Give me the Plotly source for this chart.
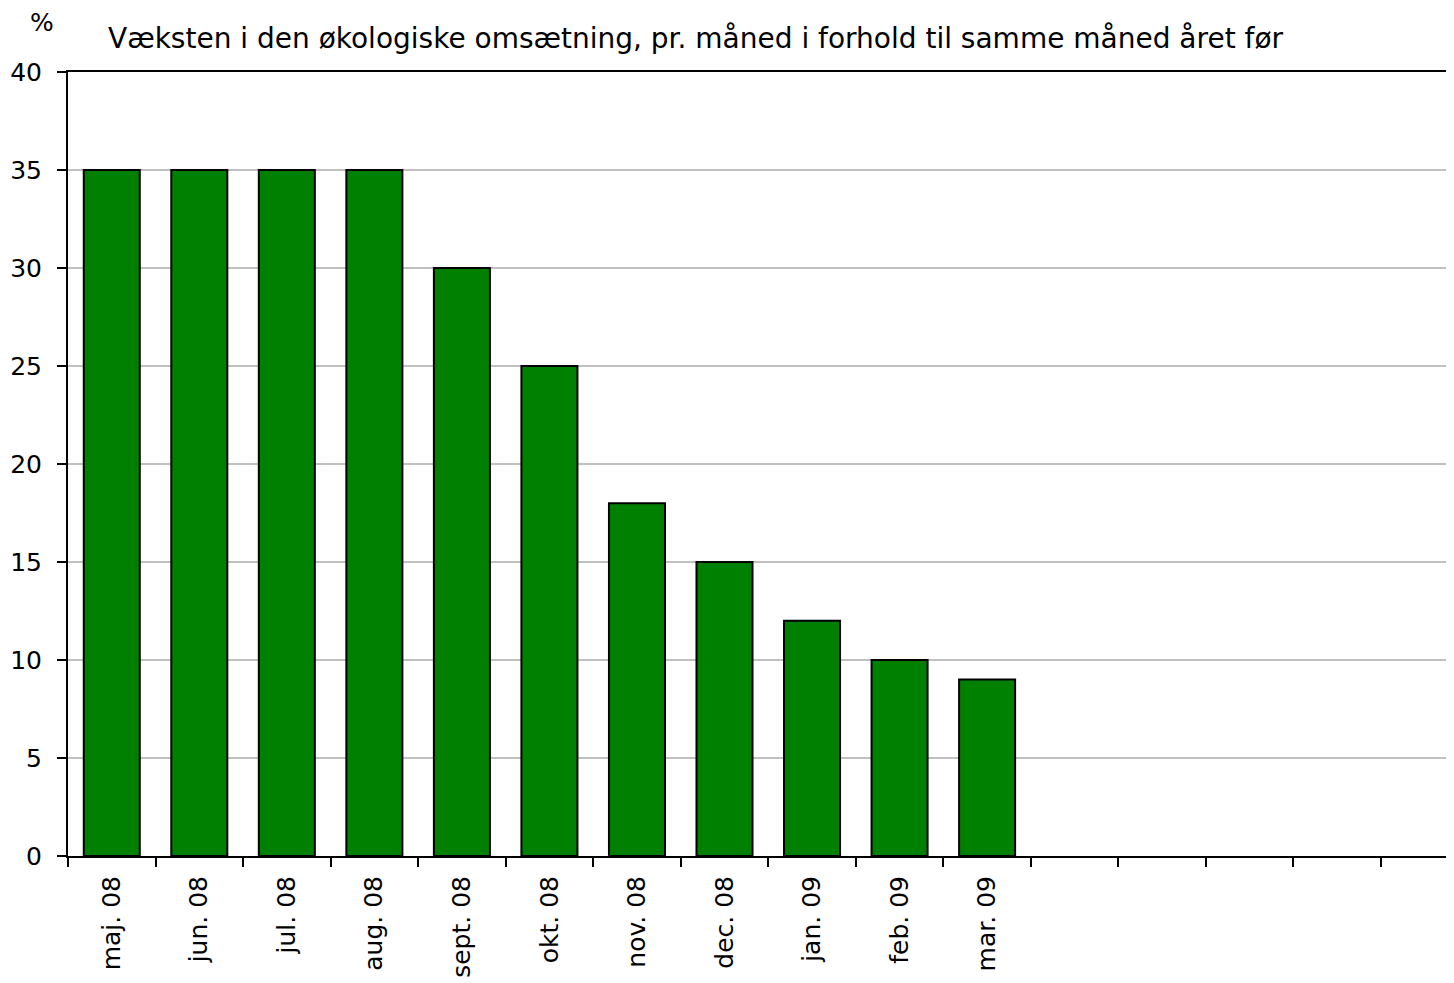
import plotly.graph_objects as go

months = ["maj. 08", "jun. 08", "jul. 08", "aug. 08", "sept. 08", "okt. 08",
          "nov. 08", "dec. 08", "jan. 09", "feb. 09", "mar. 09"]
growth = [35, 35, 35, 35, 30, 25, 18, 15, 12, 10, 9]
# empty category slots after the last month (blank labels)
empty_slots = [" " * (i + 1) for i in range(5)]

categories = months + empty_slots
values = growth + [None] * len(empty_slots)

title_text = "Væksten i den økologiske omsætning, pr. måned i forhold til samme måned året før"

OFF = 8  # default page body margin
W, H = 1454 - OFF, 983 - OFF
ml, mt = 68 - OFF, 72 - OFF
mb = H - (856 - OFF)
slot_px = (1381 - 68) / 15.0
x_upper = -0.5 + (W - ml) / slot_px
plot_h = H - mt - mb

fig = go.Figure(
    go.Bar(
        x=categories,
        y=values,
        marker=dict(color="#008000", line=dict(color="#000000", width=2)),
        width=0.64,
        showlegend=False,
        hoverinfo="x+y",
    )
)

fig.update_layout(
    width=W,
    height=H,
    margin=dict(l=ml, r=0, t=mt, b=mb, pad=0, autoexpand=False),
    plot_bgcolor="white",
    paper_bgcolor="white",
    font=dict(family="DejaVu Sans, Liberation Sans, Arial", color="black", size=25),
    title=dict(
        text=title_text,
        x=(108 - OFF) / W,
        xanchor="left",
        y=1 - (38 - OFF) / H,
        yanchor="middle",
        xref="container",
        yref="container",
        font=dict(size=28, family="DejaVu Sans, Arial", color="black"),
    ),
    bargap=0.36,
)

fig.update_xaxes(
    type="category",
    categoryorder="array",
    categoryarray=categories,
    range=[-0.5, x_upper],
    tickson="boundaries",
    ticks="outside",
    ticklen=9,
    tickwidth=2,
    tickcolor="black",
    tickangle=-90,
    ticklabelstandoff=8,
    tickfont=dict(size=25, family="DejaVu Sans, Arial"),
    showline=True,
    linecolor="black",
    linewidth=2,
    mirror=True,
    showgrid=False,
    zeroline=False,
    fixedrange=True,
)

fig.update_yaxes(
    range=[0, 40],
    dtick=5,
    tick0=0,
    ticks="outside",
    ticklen=9,
    tickwidth=2,
    tickcolor="black",
    ticklabelstandoff=10,
    tickfont=dict(size=25, family="DejaVu Sans, Arial"),
    showline=True,
    linecolor="black",
    linewidth=2,
    showgrid=True,
    gridcolor="#C0C0C0",
    gridwidth=2,
    zeroline=False,
    fixedrange=True,
)

fig.add_annotation(
    text="%",
    xref="paper",
    yref="paper",
    x=(42 - 68) / (W - ml),
    y=1 + (72 - 22) / plot_h,
    xanchor="center",
    yanchor="middle",
    showarrow=False,
    font=dict(size=25, family="DejaVu Sans, Arial", color="black"),
)

fig.write_html("out.html")
